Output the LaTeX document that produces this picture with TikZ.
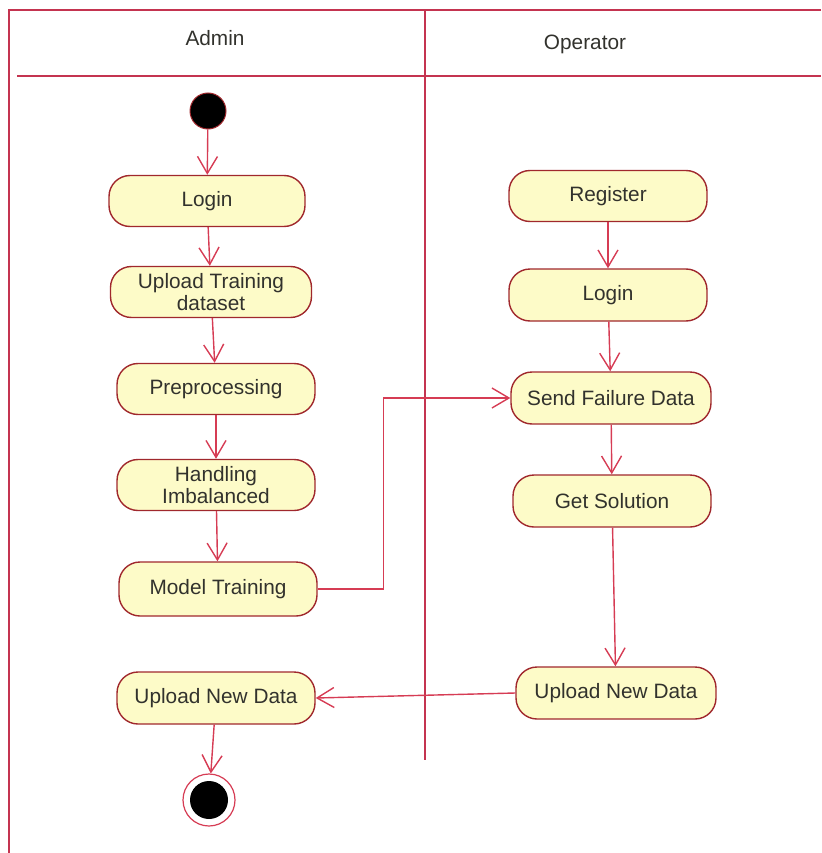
\documentclass[tikz,border=0pt]{standalone}
\usepackage{fontspec}
\setmainfont{Liberation Sans}
\usetikzlibrary{arrows.meta}
\definecolor{laneline}{RGB}{196,52,80}
\definecolor{flowline}{RGB}{214,60,84}
\definecolor{actfill}{RGB}{253,251,200}
\definecolor{actedge}{RGB}{160,40,45}
\definecolor{txt}{RGB}{50,50,45}
\begin{document}
\begin{tikzpicture}[x=1pt,y=-1pt,
  activity/.style={draw=actedge, fill=actfill, line width=1.4pt,
    rounded corners=21pt, minimum width=198pt, minimum height=51pt,
    inner sep=0pt, align=center, text=txt,
    font=\fontsize{20.8}{22}\selectfont},
  lanetitle/.style={text=txt, font=\fontsize{20.8}{22}\selectfont},
  flow/.style={draw=flowline, line width=1.4pt,
    -{Straight Barb[length=17pt,width=20pt]}},
  lane/.style={draw=laneline, line width=1.3pt}]
\useasboundingbox (0,0) rectangle (821,853);

% swimlane frame
\draw[lane] (821,10) -- (9,10) -- (9,853);
\draw[lane] (17,76) -- (821,76);
\draw[lane] (425,10) -- (425,760);
\node[lanetitle] (admin) at (215,38) {Admin};
\node[lanetitle] (operator) at (585,44) {Operator};

% Admin lane
\node[circle, fill=black, draw=actedge, line width=1pt, minimum size=36pt, inner sep=0pt] (start) at (208,111) {};
\node[activity, minimum width=196pt] (loginA) at (207,201) {Login};
\node[activity, minimum width=201pt] (upload) at (211,292) {Upload Training\\dataset};
\node[activity] (prep) at (216,389) {Preprocessing};
\node[activity] (imbal) at (216,485) {Handling\\Imbalanced};
\node[activity, minimum height=54pt] (model) at (218,589) {Model Training};
\node[activity, minimum height=52pt] (newL) at (216,698) {Upload New Data};
\node[circle, draw=flowline, fill=white, line width=1.2pt, minimum size=52pt, inner sep=0pt] (final) at (209,800) {};
\node[circle, fill=black, minimum size=38pt, inner sep=0pt] (finalcore) at (final) {};

% Operator lane
\node[activity] (register) at (608,196) {Register};
\node[activity, minimum height=52pt] (loginO) at (608,295) {Login};
\node[activity, minimum width=200pt, minimum height=52pt] (send) at (611,398) {Send Failure Data};
\node[activity, minimum height=52pt] (solution) at (612,501) {Get Solution};
\node[activity, minimum width=200pt, minimum height=52pt] (newR) at (616,693) {Upload New Data};

% control flows
\draw[flow] (start) -- (loginA);
\draw[flow] (loginA) -- (upload);
\draw[flow] (upload) -- (prep);
\draw[flow] (prep) -- (imbal);
\draw[flow] (imbal) -- (model);
\draw[flow] (model.east) -- ++(66,0) |- (send.west);
\draw[flow] (register) -- (loginO);
\draw[flow] (loginO) -- (send);
\draw[flow] (send) -- (solution);
\draw[flow] (solution) -- (newR);
\draw[flow] (newR.west) -- (newL.east);
\draw[flow] (newL) -- (final);
\end{tikzpicture}
\end{document}
